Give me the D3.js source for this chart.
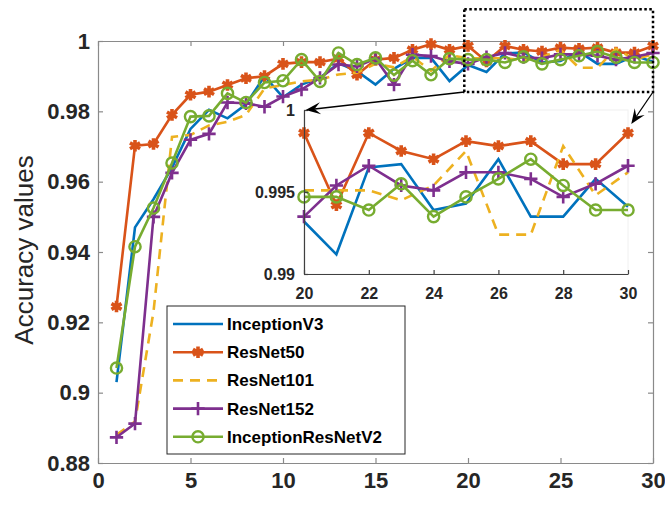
<!DOCTYPE html>
<html>
<head>
    <meta charset="utf-8">
    <title>Accuracy</title>
    <script src="https://d3js.org/d3.v7.min.js"></script>
    <style type="text/css">
        body { margin: 0; background: #fff; }
        .tick text { font-family: 'Liberation Sans', Arial, sans-serif; font-weight: bold; fill: #262626; }
        .legend text { font-family: 'Liberation Sans', Arial, sans-serif; font-weight: bold; fill: #000; }
    </style>
</head>
<body>
    <script type="text/javascript">

        var epochs = d3.range(1, 31);

        var inceptionV3 = [0.903, 0.947, 0.955, 0.964, 0.975, 0.9804, 0.978, 0.982, 0.990, 0.984,
            0.9876, 0.9895, 0.9937, 0.9914, 0.9876, 0.9921, 0.9952, 0.9952, 0.9886, 0.9932,
            0.9912, 0.9965, 0.9967, 0.9939, 0.9943, 0.997, 0.9935, 0.9935, 0.9958, 0.9941];
        var resNet50 = [0.9245, 0.9702, 0.9707, 0.979, 0.9847, 0.9856, 0.9875, 0.9894, 0.990, 0.9935,
            0.994, 0.994, 0.995, 0.9904, 0.9947, 0.9952, 0.9975, 0.9991, 0.9975, 0.9986,
            0.9942, 0.9986, 0.9975, 0.997, 0.9981, 0.9978, 0.9981, 0.9967, 0.9967, 0.9986];
        var resNet101 = [0.888, 0.8918, 0.923, 0.9727, 0.9733, 0.976, 0.977, 0.979, 0.9865, 0.9875,
            0.9885, 0.989, 0.9905, 0.991, 0.9935, 0.9925, 0.9955, 0.9915, 0.996, 0.9951,
            0.9951, 0.9951, 0.9945, 0.9954, 0.9975, 0.9924, 0.9924, 0.9978, 0.9948, 0.9962];
        var resNet152 = [0.8873, 0.8912, 0.950, 0.9625, 0.9719, 0.9736, 0.9825, 0.9823, 0.9813, 0.9842,
            0.9862, 0.9895, 0.9933, 0.9928, 0.995, 0.9876, 0.9961, 0.9957, 0.9942, 0.9935,
            0.9954, 0.9966, 0.9954, 0.9951, 0.9962, 0.9962, 0.9958, 0.9947, 0.9955, 0.9966];
        var inceptionResNetV2 = [0.907, 0.9415, 0.9525, 0.9653, 0.9785, 0.9787, 0.9851, 0.9825, 0.9882, 0.9887,
            0.9947, 0.9885, 0.9966, 0.9933, 0.9952, 0.9903, 0.9944, 0.9904, 0.995, 0.9947,
            0.9947, 0.9939, 0.9955, 0.9935, 0.9947, 0.9958, 0.997, 0.9954, 0.9939, 0.9939];

        var seriesNames = ["InceptionV3", "ResNet50", "ResNet101", "ResNet152", "InceptionResNetV2"];
        var xTicks = [0, 5, 10, 15, 20, 25, 30];
        var yTicks = [0.88, 0.9, 0.92, 0.94, 0.96, 0.98, 1];
        var insetXTicks = [20, 22, 24, 26, 28, 30];
        var insetYTicks = [0.99, 0.995, 1];

        var series = [
            { name: seriesNames[0], values: inceptionV3, color: "#0072BD", marker: null, dash: null },
            { name: seriesNames[1], values: resNet50, color: "#D95319", marker: "star", dash: null },
            { name: seriesNames[2], values: resNet101, color: "#EDB120", marker: null, dash: "10,7" },
            { name: seriesNames[3], values: resNet152, color: "#7E2F8E", marker: "plus", dash: null },
            { name: seriesNames[4], values: inceptionResNetV2, color: "#77AC30", marker: "circle", dash: null }
        ];

        var width = 665, height = 532;
        var svg = d3.select("body").append("svg")
            .attr("width", width)
            .attr("height", height);

        // main axes
        var x = d3.scaleLinear().domain([0, 30]).range([98, 653]);
        var y = d3.scaleLinear().domain([0.88, 1]).range([463, 41]);
        // inset axes
        var xi = d3.scaleLinear().domain([20, 30]).range([304, 628]);
        var yi = d3.scaleLinear().domain([0.99, 1]).range([274, 110]);

        var axisGray = "#8a8a8a";

        function styleAxis(g, col) {
            g.select(".domain").attr("stroke", col).attr("stroke-width", 1.2);
            g.selectAll(".tick line").attr("stroke", col).attr("stroke-width", 1.2);
        }

        svg.append("g")
            .attr("transform", "translate(0,463)")
            .call(d3.axisBottom(x).tickValues(xTicks).tickFormat(d3.format("d"))
                .tickSizeInner(-5).tickSizeOuter(0).tickPadding(9))
            .call(styleAxis, axisGray)
            .selectAll("text").style("font-size", "22px");
        svg.append("g")
            .attr("transform", "translate(0,41)")
            .call(d3.axisTop(x).tickValues(xTicks).tickFormat("")
                .tickSizeInner(-5).tickSizeOuter(0))
            .call(styleAxis, axisGray);
        svg.append("g")
            .attr("transform", "translate(98,0)")
            .call(d3.axisLeft(y).tickValues(yTicks).tickFormat(function (d) { return d3.format("")(+d.toFixed(2)); })
                .tickSizeInner(-5).tickSizeOuter(0).tickPadding(8))
            .call(styleAxis, axisGray)
            .selectAll("text").style("font-size", "22px");
        svg.append("g")
            .attr("transform", "translate(653,0)")
            .call(d3.axisRight(y).tickValues(yTicks).tickFormat("")
                .tickSizeInner(-5).tickSizeOuter(0))
            .call(styleAxis, axisGray);

        svg.append("text")
            .attr("transform", "translate(33,250) rotate(-90)")
            .attr("text-anchor", "middle")
            .style("font-family", "'Liberation Sans', Arial, sans-serif")
            .style("font-size", "26px")
            .style("fill", "#262626")
            .text("Accuracy values");

        function drawMarkers(g, s, pts, sx, sy) {
            if (!s.marker) return;
            var m = g.selectAll(null).data(pts).enter();
            if (s.marker === "circle") {
                m.append("circle")
                    .attr("cx", function (d) { return sx(d.e); })
                    .attr("cy", function (d) { return sy(d.v); })
                    .attr("r", 5.6)
                    .attr("fill", "none")
                    .attr("stroke", s.color)
                    .attr("stroke-width", 2.4);
            } else {
                var sym = s.marker === "star"
                    ? d3.symbol().type(d3.symbolAsterisk).size(95)
                    : d3.symbol().type(d3.symbolPlus).size(60);
                m.append("path")
                    .attr("d", sym)
                    .attr("transform", function (d) { return "translate(" + sx(d.e) + "," + sy(d.v) + ")"; })
                    .attr("fill", "none")
                    .attr("stroke", s.color)
                    .attr("stroke-width", s.marker === "star" ? 3.6 : 2.6);
            }
        }

        function drawSeries(g, sx, sy, filter) {
            series.forEach(function (s) {
                var pts = epochs.map(function (e, i) { return { e: e, v: s.values[i] }; }).filter(filter);
                g.append("path")
                    .datum(pts)
                    .attr("fill", "none")
                    .attr("stroke", s.color)
                    .attr("stroke-width", 2.6)
                    .attr("stroke-dasharray", s.dash)
                    .attr("d", d3.line().x(function (d) { return sx(d.e); }).y(function (d) { return sy(d.v); }));
                drawMarkers(g, s, pts, sx, sy);
            });
        }

        drawSeries(svg.append("g"), x, y, function () { return true; });

        // dotted zoom box
        svg.append("rect")
            .attr("x", x(19.8)).attr("y", y(1.009))
            .attr("width", x(30) - x(19.8)).attr("height", y(0.9855) - y(1.009))
            .attr("fill", "none")
            .attr("stroke", "#000")
            .attr("stroke-width", 2.5)
            .attr("stroke-dasharray", "2.5,2.5");

        // inset
        var inset = svg.append("g");
        inset.append("rect")
            .attr("x", xi(20)).attr("y", yi(1))
            .attr("width", xi(30) - xi(20)).attr("height", yi(0.99) - yi(1))
            .attr("fill", "#fff")
            .attr("stroke", "#f0f0f0");
        drawSeries(inset.append("g"), xi, yi, function (d) { return d.e >= 20; });

        inset.append("g")
            .attr("transform", "translate(0," + yi(0.99) + ")")
            .call(d3.axisBottom(xi).tickValues(insetXTicks).tickFormat(d3.format("d"))
                .tickSizeInner(-4).tickSizeOuter(0).tickPadding(14))
            .call(styleAxis, "#404040")
            .selectAll("text").style("font-size", "16px");
        inset.append("g")
            .attr("transform", "translate(" + xi(20) + ",0)")
            .call(d3.axisLeft(yi).tickValues(insetYTicks).tickFormat(function (d) { return d3.format("")(+d.toFixed(3)); })
                .tickSizeInner(-4).tickSizeOuter(0).tickPadding(9))
            .call(styleAxis, "#404040")
            .selectAll("text").style("font-size", "16px");

        // arrows
        function arrow(x1, y1, x2, y2) {
            var a = Math.atan2(y2 - y1, x2 - x1), L = 15, W = 6;
            var bx = x2 - L * Math.cos(a), by = y2 - L * Math.sin(a);
            var mx = x2 - L * 0.6 * Math.cos(a), my = y2 - L * 0.6 * Math.sin(a);
            svg.append("line")
                .attr("x1", x1).attr("y1", y1).attr("x2", mx).attr("y2", my)
                .attr("stroke", "#000").attr("stroke-width", 1.3);
            svg.append("path")
                .attr("d", "M" + x2 + "," + y2 +
                    "L" + (bx - W * Math.sin(a)) + "," + (by + W * Math.cos(a)) +
                    "L" + mx + "," + my +
                    "L" + (bx + W * Math.sin(a)) + "," + (by - W * Math.cos(a)) + "Z")
                .attr("fill", "#000");
        }
        arrow(x(19.8), y(0.9855), xi(20.05), yi(1));
        arrow(x(30), y(0.9855), xi(30.1), yi(0.99915));

        // legend
        var legend = svg.append("g").attr("class", "legend");
        legend.append("rect")
            .attr("x", 167).attr("y", 306)
            .attr("width", 238).attr("height", 148)
            .attr("fill", "#fff")
            .attr("stroke", "#262626")
            .attr("stroke-width", 1);
        series.forEach(function (s, i) {
            var ly = 324 + i * 28.2;
            var row = legend.append("g");
            row.append("line")
                .attr("x1", 173).attr("x2", 223)
                .attr("y1", ly).attr("y2", ly)
                .attr("stroke", s.color)
                .attr("stroke-width", 2.6)
                .attr("stroke-dasharray", s.dash);
            drawMarkers(row, s, [{ e: 0, v: 0 }], function () { return 198; }, function () { return ly; });
            row.append("text")
                .attr("x", 227).attr("y", ly)
                .attr("dy", "0.35em")
                .style("font-size", "17px")
                .text(s.name);
        });

    </script>
</body>
</html>
